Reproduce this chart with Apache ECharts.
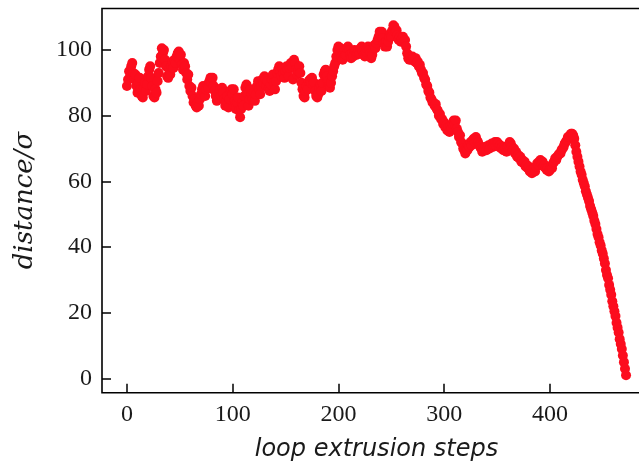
<!DOCTYPE html>
<html>
<head>
<meta charset="utf-8">
<script src="https://cdn.jsdelivr.net/npm/echarts@6/dist/echarts.min.js"></script>
<style>
  html, body { margin: 0; padding: 0; background: #fff; }
  #chart { width: 639px; height: 472px; }
</style>
</head>
<body>
<div id="chart"></div>
<script>
// Loop-extrusion trajectory: distance (in units of sigma) at each extrusion step.
const distance = [
  89, 91, 93.5, 92, 95, 96, 93, 91, 92.5, 89,
  87, 90, 91.5, 88, 86, 85.5, 88.5, 90, 87.5, 89.5,
  92, 94, 95, 91.5, 89, 86, 85.5, 88, 87, 90.5,
  93, 96, 98, 100.5, 99, 100, 97, 95, 92, 91.5,
  94, 92.5, 95, 96.5, 94.5, 97, 96, 98, 99, 99.5,
  97, 98.5, 95.5, 94, 96, 95, 93, 91, 92.5, 89,
  87.5, 88.5, 86, 84, 85, 83, 82.5, 84, 83, 85,
  86.5, 88, 89, 87, 86, 88, 89.5, 88.5, 90.5, 91.5,
  90, 91.5, 89, 87.5, 86, 84.5, 85.5, 87, 88, 86,
  88.5, 87, 85, 83, 84.5, 86, 82.5, 85, 87.5, 88,
  86.5, 88, 84.5, 82, 84, 85.5, 81.5, 79.5, 82, 84,
  83, 86, 88.5, 89.5, 87, 83, 85, 88, 86.5, 85,
  87, 84.5, 86.5, 89, 90.5, 88, 86.5, 89, 91, 90,
  92, 91, 89, 90.5, 88, 87.5, 89.5, 91, 92.5, 90,
  88, 90.5, 93, 94, 95, 93.5, 92, 94.5, 93, 91.5,
  93.5, 95, 94, 92, 94.5, 96, 95, 91, 97, 96,
  94, 92.5, 93.5, 95, 93, 90, 88, 86, 85.5, 87.5,
  89, 88, 90.5, 91, 90, 91.5, 89.5, 90, 87.5, 86,
  85.5, 86.5, 88.5, 89.5, 87.5, 90, 92.5, 93.5, 94, 92,
  90.5, 89, 88.5, 90, 92, 93.5, 95, 96, 98, 100,
  101, 99.5, 100.5, 98, 97, 99, 100, 98.5, 100.5, 101,
  100, 98.5, 97.5, 99, 98, 100, 99.5, 98.5, 99, 100,
  99, 100.5, 101, 99.5, 98.5, 98, 99.5, 100.5, 101, 100,
  99, 97.5, 98.5, 100.5, 101.5, 100.5, 102, 103, 104, 105.5,
  104.5, 105.5, 103.5, 102, 101, 102.5, 101, 102.5, 104, 105,
  104, 106, 107.5, 107, 105.5, 106, 104.5, 103, 104, 102.5,
  103.5, 104, 102.5, 103, 101, 99, 97.5, 97, 98, 97,
  98, 97.5, 96.5, 97.5, 96, 96.5, 95, 95.5, 94, 93,
  93, 91.5, 91, 89.5, 89, 87.5, 87, 85.5, 85, 84,
  84, 83, 83.5, 82, 81.5, 80, 80.5, 79, 79, 77.5,
  78, 76.5, 77, 75.5, 76.5, 75, 77, 76, 77.5, 78.5,
  77.5, 78.5, 76, 75, 73.5, 74, 72, 71.5, 70, 69.5,
  68.5, 70, 69.5, 71, 70.5, 72, 71, 72.5, 73, 72,
  73.5, 72.5, 72, 71, 70.5, 70, 69, 70, 69.5, 70.5,
  69.5, 70.5, 71, 70, 70.5, 71.5, 70.5, 71, 72, 71,
  72, 71.5, 70.5, 71, 70, 70.5, 69.5, 70.5, 70, 69,
  70.5, 71, 72, 71.5, 70.5, 69.5, 70, 68.5, 69, 67.5,
  68, 67, 67.5, 66, 66.5, 65.5, 66, 64.5, 65, 64,
  64.5, 63, 63.5, 62.5, 63.5, 64, 63, 64.5, 65.5, 65,
  66, 66.5, 65.5, 66, 64.5, 65, 64, 63.5, 64, 63,
  63.5, 64.5, 64, 65.5, 66, 67, 66.5, 67.5, 68, 68.5,
  68.5, 69.5, 70, 70.5, 71.5, 72, 72.5, 73.5, 73.5, 74,
  74.5, 74.5, 74, 73, 71, 69, 67.5, 66, 64.5, 63,
  62, 60.5, 59.5, 58.5, 57, 56, 55, 54, 52.5, 51.5,
  50.5, 49.5, 48, 47, 45.5, 44, 43, 41.5, 40.5, 39,
  38, 36.5, 35, 33, 31.5, 30.5, 28.5, 27, 25.5, 23.5,
  22, 20.5, 19, 17, 15.5, 14, 12, 10.5, 9, 7,
  5, 3, 1
];

// Tick positions for both axes
const xTicks = [0, 100, 200, 300, 400];
const yTicks = [0, 20, 40, 60, 80, 100];

const points = distance.map((d, step) => [step, d]);

const tickFont = {
  fontFamily: 'Liberation Serif',
  fontSize: 24,
  color: '#1a1a1a'
};

const tickStyle = { color: '#000', width: 1.5 };

const chart = echarts.init(document.getElementById('chart'), null, { renderer: 'canvas' });
chart.setOption({
  animation: false,
  backgroundColor: '#ffffff',
  grid: {
    show: true,
    left: 102,
    top: 8.5,
    width: 549,
    height: 384.2,
    containLabel: false,
    outerBoundsMode: 'none',
    borderColor: '#000',
    borderWidth: 1.6,
    backgroundColor: 'transparent'
  },
  xAxis: {
    type: 'value',
    min: -23.6,
    max: 495.6,
    axisLine: { show: false, onZero: false },
    splitLine: { show: false },
    axisTick: {
      show: true,
      inside: true,
      length: 9,
      lineStyle: tickStyle,
      customValues: xTicks
    },
    axisLabel: Object.assign({ margin: 10, customValues: xTicks }, tickFont),
    name: 'loop extrusion steps',
    nameLocation: 'middle',
    nameGap: 45,
    nameTextStyle: {
      fontFamily: 'DejaVu Sans',
      fontStyle: 'italic',
      fontSize: 24,
      color: '#1a1a1a'
    }
  },
  yAxis: {
    type: 'value',
    min: -4.3,
    max: 112.6,
    axisLine: { show: false, onZero: false },
    splitLine: { show: false },
    axisTick: {
      show: true,
      inside: true,
      length: 9,
      lineStyle: tickStyle,
      customValues: yTicks
    },
    axisLabel: Object.assign({ margin: 10, customValues: yTicks }, tickFont),
    name: 'distance/σ',
    nameLocation: 'middle',
    nameRotate: 90,
    nameGap: 64,
    nameTextStyle: {
      fontFamily: 'DejaVu Serif',
      fontStyle: 'italic',
      fontSize: 26,
      color: '#1a1a1a'
    }
  },
  series: [{
    type: 'scatter',
    data: points,
    symbol: 'circle',
    symbolSize: 10,
    itemStyle: { color: '#fc0d1e', opacity: 1 },
    emphasis: { disabled: true }
  }]
});
</script>
</body>
</html>
